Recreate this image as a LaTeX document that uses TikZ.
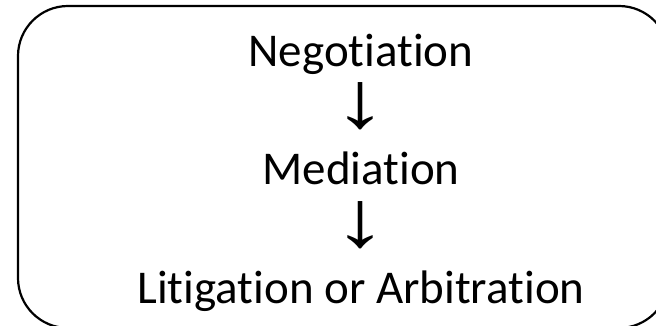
\documentclass[tikz,border=0pt]{standalone}
\usepackage{fontspec}
\setmainfont[Ligatures=NoCommon]{Carlito}
\newfontfamily\arrowfont{Liberation Sans}
\newcommand\downglyph{\smash{\scalebox{1.35}[1]{↓}}}
\tikzstyle{stage}=[font=\fontsize{47}{56}\selectfont, anchor=base, inner sep=0pt]
\tikzstyle{downmark}=[font=\arrowfont\fontsize{80}{90}\selectfont, anchor=base, inner sep=0pt]

\begin{document}
\begin{tikzpicture}[x=1pt, y=-1pt, line width=2.2pt]
\useasboundingbox (0,0) rectangle (656,326);
\clip (0,0) rectangle (656,326);
% Frame
    \draw[rounded corners=50] (18,6) rectangle (669,328);
% Stages
    \node[stage] (neg) at (361,67) {Negotiation};
    \node[stage] (med) at (361,184) {Mediation};
    \node[stage] (lit) at (361,303) {Litigation or Arbitration};
% Arrows
    \node[downmark] (arr1) at (360,128) {\downglyph};
    \node[downmark] (arr2) at (360,246) {\downglyph};
\end{tikzpicture}
\end{document}
